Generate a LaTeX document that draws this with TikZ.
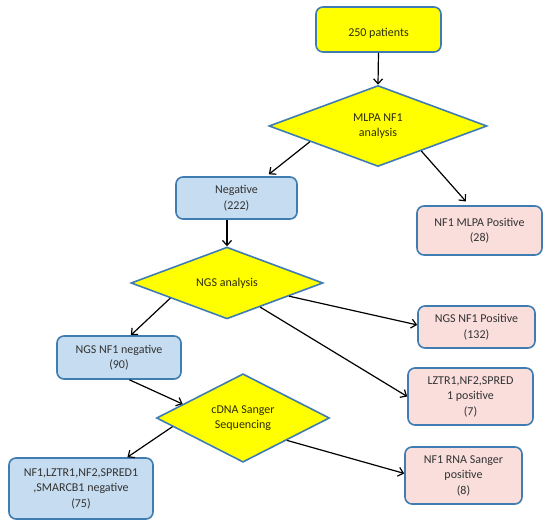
\documentclass[tikz,border=0pt]{standalone}
\usepackage{fontspec}
\setmainfont{Carlito}
\usepackage{tikz}
\usetikzlibrary{arrows.meta,shapes.geometric,calc}
\definecolor{edgeblue}{RGB}{62,124,177}
\definecolor{boxyellow}{RGB}{255,255,0}
\definecolor{boxblue}{RGB}{198,220,240}
\definecolor{boxpink}{RGB}{249,222,220}
\definecolor{boxtext}{RGB}{50,50,50}
\definecolor{dectext}{RGB}{45,45,10}
\tikzstyle{line} = [draw, ->, line width=1.2pt]
\tikzstyle{box} = [draw=edgeblue, line width=1.6pt, rounded corners=7pt, rectangle, align=center, text=boxtext, font=\fontsize{12}{15.5}\selectfont, inner sep=2pt]
\tikzstyle{startbox} = [box, fill=boxyellow, text=dectext]
\tikzstyle{negbox} = [box, fill=boxblue]
\tikzstyle{posbox} = [box, fill=boxpink]
\tikzstyle{decision} = [draw=edgeblue, line width=1.6pt, diamond, fill=boxyellow, align=center, text=dectext, font=\fontsize{12}{15.5}\selectfont, inner sep=0pt]

\begin{document}
\begin{tikzpicture}[x=1pt,y=-1pt,>={Straight Barb[length=5pt,width=9pt]}]
        \useasboundingbox (0,0) rectangle (550,526);
        \node [startbox, minimum width=125pt, minimum height=45pt] (start) at (378.5,29.5) {\mbox{}\\250 patients};
        \node [decision, minimum width=218pt, minimum height=81pt] (mlpa) at (378,126) {MLPA NF1\\analysis};
        \node [negbox, minimum width=121pt, minimum height=42pt] (neg) at (236.5,198) {Negative\\(222)};
        \node [posbox, minimum width=125pt, minimum height=49pt] (mlpapos) at (479.5,230.5) {NF1 MLPA Positive\\(28)};
        \node [decision, minimum width=192pt, minimum height=71pt] (ngs) at (227,283) {NGS analysis};
        \node [posbox, minimum width=117pt, minimum height=42pt] (ngspos) at (476.5,327) {NGS NF1 Positive\\(132)};
        \node [posbox, minimum width=125pt, minimum height=57pt] (lztrpos) at (470.5,396.5) {LZTR1,NF2,SPRED\\1 positive\\(7)};
        \node [negbox, minimum width=124pt, minimum height=43pt] (ngsneg) at (119,357.5) {NGS NF1 negative\\(90)};
        \node [decision, minimum width=173pt, minimum height=79pt] (cdna) at (243,418) {cDNA Sanger\\Sequencing};
        \node [negbox, minimum width=144pt, minimum height=61pt] (allneg) at (81,488.5) {NF1,LZTR1,NF2,SPRED1\\,SMARCB1 negative\\(75)};
        \node [posbox, minimum width=117pt, minimum height=57pt] (rnapos) at (463.5,475.5) {NF1 RNA Sanger\\positive\\(8)};
        % MLPA step
        \draw [line] (start.south) -- (mlpa.north);
        \draw [line, shorten >=3pt] (mlpa.193) -- (neg.36);
        \draw [line, shorten >=5pt] (mlpa.-30) -- (mlpapos.112);
        % NGS step
        \draw [line] (ngs.north |- neg.south) -- (ngs.north);
        \draw [line] (ngs.195) -- (ngsneg.62);
        \draw [line] (ngs.-12) -- (ngspos.178);
        \draw [line] (ngs.-36) -- (lztrpos.west);
        % cDNA step
        \draw [line] (ngsneg.-65) -- (cdna.167);
        \draw [line] (cdna.187) -- (allneg.34);
        \draw [line] (cdna.-27) -- (rnapos.178);
    \end{tikzpicture}
\end{document}
